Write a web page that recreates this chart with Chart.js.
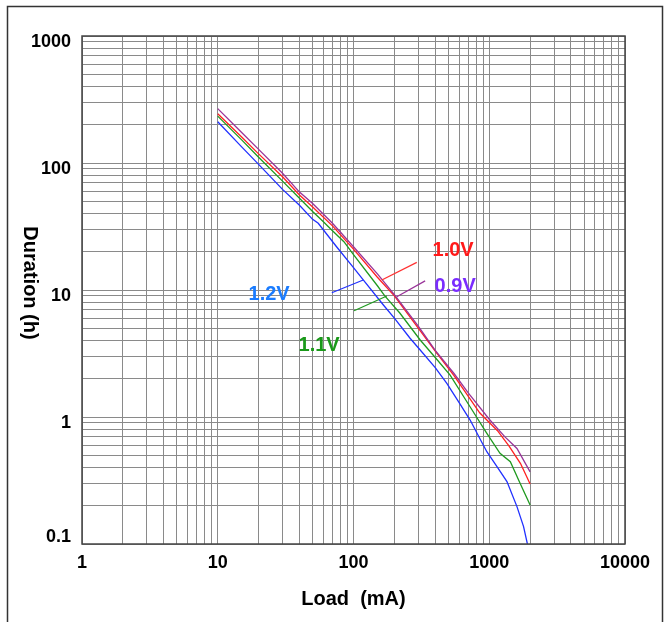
<!DOCTYPE html>
<html><head><meta charset="utf-8">
<script src="https://cdn.jsdelivr.net/npm/chart.js@4/dist/chart.umd.min.js"></script>
<style>html,body{margin:0;padding:0;background:#fff;}canvas{display:block;}</style>
</head><body>
<canvas id="c" width="669" height="622"></canvas>
<script>
// ---- data (Load in mA, Duration in h) ----
const load09 = [10,15,20,30,40,50,70,100,150,200,300,400,550,700,1000,1300,1600,2000];
const dur09  = [268,174,128,83,59,48,33.5,21.9,13.4,9.2,5.2,3.35,2.2,1.55,0.96,0.70,0.565,0.37];

const load10 = [10,15,20,30,40,50,70,100,150,200,300,400,550,850,1150,1400,1700,2000];
const dur10  = [244,160,118,78,56,45,32,21.0,12.6,9.0,5.0,3.3,2.12,1.08,0.78,0.59,0.43,0.297];

const load11 = [10,15,20,30,40,50,60,70,85,100,150,170,220,310,400,515,720,960,1200,1430,1690,2000];
const dur11  = [234,152,111,72,52.7,41.5,34.5,29.3,24.0,19.0,10.8,9.0,6.56,4.04,2.94,2.14,1.21,0.744,0.518,0.445,0.30,0.203];

const load12 = [10,15,20,30,40,50,55,75,100,118,166,200,261,310,400,487,600,723,850,960,1140,1350,1600,1790,1910];
const dur12  = [211,134,97.5,62,46.5,36,33.5,21.9,15.0,12.0,7.62,6.0,4.17,3.37,2.45,1.84,1.30,0.946,0.68,0.533,0.406,0.31,0.197,0.137,0.1];

const seriesNames = ['0.9V','1.0V','1.1V','1.2V'];

const xTickValues = [1,10,100,1000,10000];
const xTickLabels = ['1','10','100','1000','10000'];
const yTickValues = [0.1,1,10,100,1000];
const yTickLabels = ['0.1','1','10','100','1000'];
const gridMultipliers = [1,2,3,4,5,6,7,8,9];

// label anchors and leader lines in data coordinates
const labelText  = ['1.0V','0.9V','1.2V','1.1V'];
const labelLoad  = [542, 561, 23.9, 55.8];
const labelDur   = [20.6, 10.6, 9.14, 3.69];
const leaderFromLoad = [161.6, 208.5, 118, 176];
const leaderFromDur  = [12.0, 8.85, 12.0, 8.97];
const leaderToLoad   = [292.7, 337, 69.2, 101];
const leaderToDur    = [16.5, 11.8, 9.52, 6.87];

// ---- styles ----
const lineColors = ['#993399','#ff2020','#1f9a1f','#2030ff'];
const labelColors = ['#ff1a1a','#7a2cff','#1a7cff','#1a991a'];
const leaderColors = ['#ff3030','#993399','#2030ff','#1f9a1f'];
const FONT = '"Liberation Sans", Arial, sans-serif';

function pts(xs, ys){ return xs.map((x,i)=>({x:x, y:ys[i]})); }
function gridValues(min, max){
  const out = [];
  for (let e = Math.floor(Math.log10(min)); e <= Math.ceil(Math.log10(max)); e++){
    for (const m of gridMultipliers){
      const v = +(m * Math.pow(10, e)).toPrecision(6);
      if (v >= min*0.9999 && v <= max*1.0001) out.push(v);
    }
  }
  return out;
}

const decor = {
  id: 'decor',
  beforeDraw(chart){
    const ctx = chart.ctx;
    ctx.save();
    ctx.fillStyle = '#fff';
    ctx.fillRect(0,0,chart.width,chart.height);
    ctx.strokeStyle = '#333';
    ctx.lineWidth = 1.5;
    ctx.strokeRect(7.5, 6.5, 655, 660);
    ctx.restore();
  },
  afterDatasetsDraw(chart){
    const ctx = chart.ctx, xs = chart.scales.x, ys = chart.scales.y;
    ctx.save();
    ctx.lineWidth = 1.2;
    for (let i=0;i<labelText.length;i++){
      ctx.strokeStyle = leaderColors[i];
      ctx.beginPath();
      ctx.moveTo(xs.getPixelForValue(leaderFromLoad[i]), ys.getPixelForValue(leaderFromDur[i]));
      ctx.lineTo(xs.getPixelForValue(leaderToLoad[i]), ys.getPixelForValue(leaderToDur[i]));
      ctx.stroke();
    }
    ctx.font = 'bold 20px ' + FONT;
    ctx.textAlign = 'center';
    ctx.textBaseline = 'middle';
    for (let i=0;i<labelText.length;i++){
      ctx.fillStyle = labelColors[i];
      ctx.fillText(labelText[i], xs.getPixelForValue(labelLoad[i]), ys.getPixelForValue(labelDur[i]));
    }
    ctx.restore();
  },
  afterDraw(chart){
    const ctx = chart.ctx, a = chart.chartArea, xs = chart.scales.x, ys = chart.scales.y;
    ctx.save();
    ctx.strokeStyle = '#444';
    ctx.lineWidth = 1.5;
    ctx.strokeRect(a.left, a.top, a.right-a.left, a.bottom-a.top);
    ctx.fillStyle = '#000';
    ctx.font = 'bold 18px ' + FONT;
    ctx.textBaseline = 'middle';
    ctx.textAlign = 'right';
    yTickValues.forEach((v,i)=>{
      let y = ys.getPixelForValue(v) + 6;
      y = Math.min(y, a.bottom - 6.5);
      ctx.fillText(yTickLabels[i], a.left - 11, y);
    });
    ctx.textAlign = 'center';
    xTickValues.forEach((v,i)=>{
      ctx.fillText(xTickLabels[i], xs.getPixelForValue(v), a.bottom + 19);
    });
    ctx.font = 'bold 20px ' + FONT;
    ctx.fillText('Load  (mA)', (a.left+a.right)/2, a.bottom + 55);
    ctx.translate(30, (a.top+a.bottom)/2 - 7);
    ctx.rotate(Math.PI/2);
    ctx.fillText('Duration (h)', 0, 0);
    ctx.restore();
  }
};

const allLoads = [load09, load10, load11, load12];
const allDurs = [dur09, dur10, dur11, dur12];

new Chart(document.getElementById('c'), {
  type: 'line',
  data: {
    datasets: seriesNames.map((n,i)=>({
      label: n,
      data: pts(allLoads[i], allDurs[i]),
      borderColor: lineColors[i],
      borderWidth: 1.3,
      pointRadius: 0,
      tension: 0,
      fill: false
    }))
  },
  options: {
    responsive: false,
    animation: false,
    devicePixelRatio: 1,
    layout: { padding: { left: 82, top: 36, right: 44, bottom: 78 } },
    plugins: { legend: { display: false }, tooltip: { enabled: false } },
    scales: {
      x: {
        type: 'logarithmic', min: 1, max: 10000,
        afterBuildTicks: s => { s.ticks = gridValues(1, 10000).map(v=>({value:v})); },
        ticks: { display: false, autoSkip: false },
        grid: { color: '#8a8a8a', lineWidth: 1, drawTicks: false },
        border: { display: false }
      },
      y: {
        type: 'logarithmic', min: 0.1, max: 1000,
        afterBuildTicks: s => { s.ticks = gridValues(0.1, 1000).map(v=>({value:v})); },
        ticks: { display: false, autoSkip: false },
        grid: { color: '#8a8a8a', lineWidth: 1, drawTicks: false },
        border: { display: false }
      }
    }
  },
  plugins: [decor]
});
</script>
</body></html>
